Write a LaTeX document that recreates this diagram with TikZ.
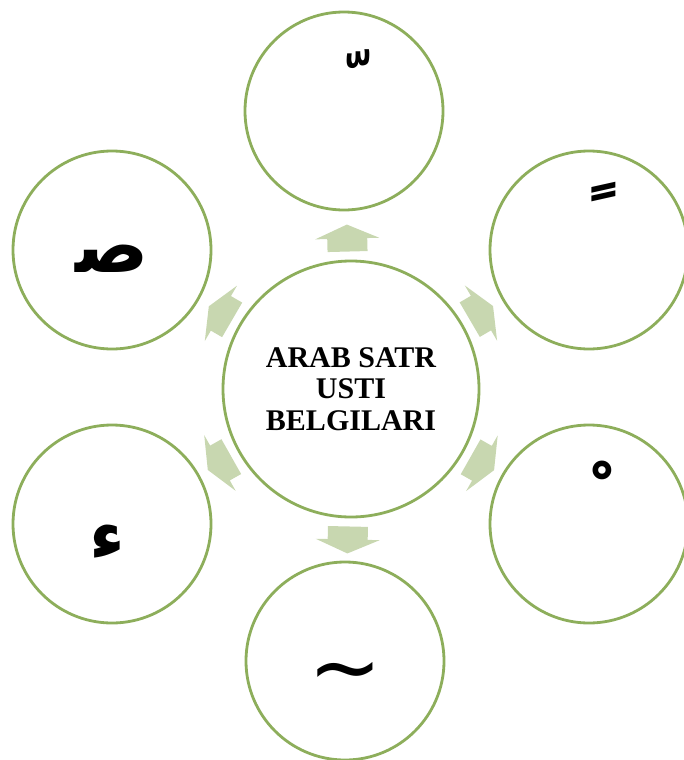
\documentclass[tikz,border=0pt]{standalone}
\usepackage{fontspec}
\setmainfont{Liberation Serif}
\newfontfamily\arabicfont[Script=Arabic]{DejaVu Sans}
\newfontfamily\symfont{DejaVu Sans}
\TeXXeTstate=1
\usetikzlibrary{calc}
\definecolor{ringc}{HTML}{8DAE5B}
\definecolor{arrowc}{HTML}{C8D7B0}
\begin{document}
\begin{tikzpicture}[x=1pt,y=-1pt,
  ring/.style={circle, draw=ringc, line width=2.8pt, minimum size=198pt, inner sep=0pt, fill=white},
  hub/.style={ring, minimum size=256pt, font=\bfseries\fontsize{30}{31.5}\selectfont, align=center},
  conn/.style={fill=arrowc, draw=none},
  glyph/.style={font=\arabicfont\bfseries\fontsize{70}{80}\selectfont, inner sep=0pt}]
\useasboundingbox (0,0) rectangle (683,760);
\node[hub] (c) at (351,389) {ARAB SATR\\USTI\\BELGILARI};
\node[ring] (t) at (344,111) {};
\node[ring] (tr) at (589,250) {};
\node[ring] (br) at (589,524) {};
\node[ring] (b) at (345,661) {};
\node[ring] (bl) at (112,524) {};
\node[ring] (tl) at (112,250) {};
\foreach \k in {t,tr,br,b,bl,tl}{
  \path let \p1=($(\k.center)-(c.center)$), \n1={atan2(\y1,\x1)} in
    \pgfextra{\xdef\ang{\n1}};
  \begin{scope}[shift={($(c.center)!151pt!(\k.center)$)}, rotate=\ang]
    \fill[conn] (-13.5,-20) -- (-0.5,-20) -- (-0.5,-32) -- (13.5,0)
      -- (-0.5,32) -- (-0.5,20) -- (-13.5,20) -- cycle;
  \end{scope}
}
\node[glyph] (gt) at (358,80) {\beginR ﹼ\endR};
\node[glyph, font=\arabicfont\bfseries\fontsize{84}{90}\selectfont] (gtr) at (604,217) {\beginR ﹰ\endR};
\node[glyph] (gbr) at (602,492) {\beginR ﹾ\endR};
\node[glyph, font=\symfont\fontsize{88}{90}\selectfont] (gb) at (345,680) {\textasciitilde};
\node[glyph] (gbl) at (107,542) {\beginR ء\endR};
\node[glyph, font=\arabicfont\bfseries\fontsize{76}{80}\selectfont] (gtl) at (112,259) {\beginR ﺻ\endR};
\end{tikzpicture}
\end{document}
